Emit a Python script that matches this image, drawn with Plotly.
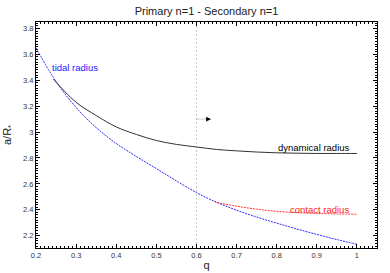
import plotly.graph_objects as go

# ---- data ----
tidal_q = [0.2, 0.25, 0.3, 0.35, 0.4, 0.45, 0.5, 0.55, 0.6, 0.65, 0.7, 0.75, 0.8, 0.85, 0.9, 0.95, 1.0]
tidal_r = [3.65, 3.39, 3.19, 3.035, 2.912, 2.812, 2.718, 2.623, 2.533, 2.458, 2.397, 2.344, 2.297, 2.252, 2.21, 2.17, 2.134]

dyn_q = [0.243, 0.25, 0.3, 0.35, 0.4, 0.45, 0.5, 0.55, 0.6, 0.65, 0.7, 0.75, 0.8, 0.85, 0.9, 0.95, 1.0]
dyn_r = [3.41, 3.385, 3.23, 3.128, 3.04, 2.982, 2.935, 2.905, 2.885, 2.866, 2.855, 2.846, 2.84, 2.837, 2.835, 2.835, 2.835]

con_q = [0.645, 0.65, 0.7, 0.75, 0.8, 0.85, 0.9, 0.95, 1.0]
con_r = [2.465, 2.458, 2.428, 2.405, 2.388, 2.378, 2.372, 2.368, 2.366]

title_text = "Primary n=1 - Secondary n=1"
x_label = "q"
y_label = "a/R<sub>*</sub>"
marker_q = 0.6
arrow_y = 3.1

FONT = "Liberation Sans, Arial, sans-serif"

fig = go.Figure()
fig.add_trace(go.Scatter(x=tidal_q, y=tidal_r, mode="lines", line=dict(color="#2a2aff", width=1, dash="2px,1px"),
                         line_shape="spline", showlegend=False, hoverinfo="skip"))
fig.add_trace(go.Scatter(x=dyn_q, y=dyn_r, mode="lines", line=dict(color="#333333", width=1),
                         line_shape="spline", showlegend=False, hoverinfo="skip"))
fig.add_trace(go.Scatter(x=con_q, y=con_r, mode="lines", line=dict(color="#ff3030", width=1, dash="2px,1px"),
                         line_shape="spline", showlegend=False, hoverinfo="skip"))

# vertical dashed marker line
fig.add_shape(type="line", xref="x", yref="paper", x0=marker_q, x1=marker_q, y0=0, y1=1,
              line=dict(color="#c8c8c8", width=1, dash="2px,2px"), layer="below")
# dotted arrow shaft
fig.add_shape(type="line", xref="x", yref="y", x0=marker_q, x1=marker_q + 0.028, y0=arrow_y, y1=arrow_y,
              line=dict(color="#999999", width=1, dash="1px,1px"))
# arrow head
fig.add_annotation(x=marker_q + 0.036, y=arrow_y, ax=marker_q + 0.026, ay=arrow_y, axref="x", ayref="y",
                   xref="x", yref="y", text="", showarrow=True, arrowhead=2, arrowsize=0.8,
                   arrowwidth=1.2, arrowcolor="black")

fig.add_annotation(x=0.235, y=3.495, text="tidal radius", showarrow=False, xanchor="left",
                   font=dict(family=FONT, size=9.5, color="#1a1aff"))
fig.add_annotation(x=0.798, y=2.88, text="dynamical radius", showarrow=False, xanchor="left",
                   font=dict(family=FONT, size=9.5, color="black"))
fig.add_annotation(x=0.829, y=2.403, text="contact radius", showarrow=False, xanchor="left",
                   font=dict(family=FONT, size=9.5, color="#ff1a1a"))

# y-axis title placed by hand
fig.add_annotation(xref="paper", yref="paper", x=(8 - 36) / 341, y=0.5, text=y_label, textangle=-90,
                   showarrow=False, xanchor="center", yanchor="middle",
                   font=dict(family=FONT, size=11, color="#222222"))

axis_common = dict(showline=True, linecolor="black", linewidth=1, mirror="ticks", ticks="inside",
                   ticklen=4, tickcolor="black", showgrid=False, zeroline=False, automargin=False,
                   tickfont=dict(family=FONT, size=7.5, color="#333333"))

fig.update_xaxes(range=[0.2, 1.05], tickvals=[0.2, 0.3, 0.4, 0.5, 0.6, 0.7, 0.8, 0.9, 1.0],
                 ticktext=["0.2", "0.3", "0.4", "0.5", "0.6", "0.7", "0.8", "0.9", "1"],
                 minor=dict(ticks="inside", ticklen=2, dtick=0.01, tick0=0.2, tickcolor="black", showgrid=False),
                 title=dict(text=x_label, font=dict(family=FONT, size=11, color="#222222"), standoff=2),
                 **axis_common)
fig.update_yaxes(range=[2.105, 3.85],
                 tickvals=[2.2, 2.4, 2.6, 2.8, 3.0, 3.2, 3.4, 3.6, 3.8],
                 ticktext=["2.2", "2.4", "2.6", "2.8", "3", "3.2", "3.4", "3.6", "3.8"],
                 minor=dict(ticks="inside", ticklen=2, dtick=0.02, tick0=2.2, tickcolor="black", showgrid=False),
                 **axis_common)

fig.update_layout(
    width=390, height=273,
    margin=dict(l=36, r=13, t=22, b=25, autoexpand=False),
    paper_bgcolor="white", plot_bgcolor="white",
    title=dict(text=title_text, x=(36 + 377) / 2 / 390, xanchor="center", y=1 - 11 / 273, yanchor="middle",
               font=dict(family=FONT, size=11, color="#222222")),
    font=dict(family=FONT),
    hovermode=False,
)

fig.write_html("out.html", config={"displayModeBar": False},
               post_script="document.body.style.margin='0';document.body.style.overflow='hidden';")
